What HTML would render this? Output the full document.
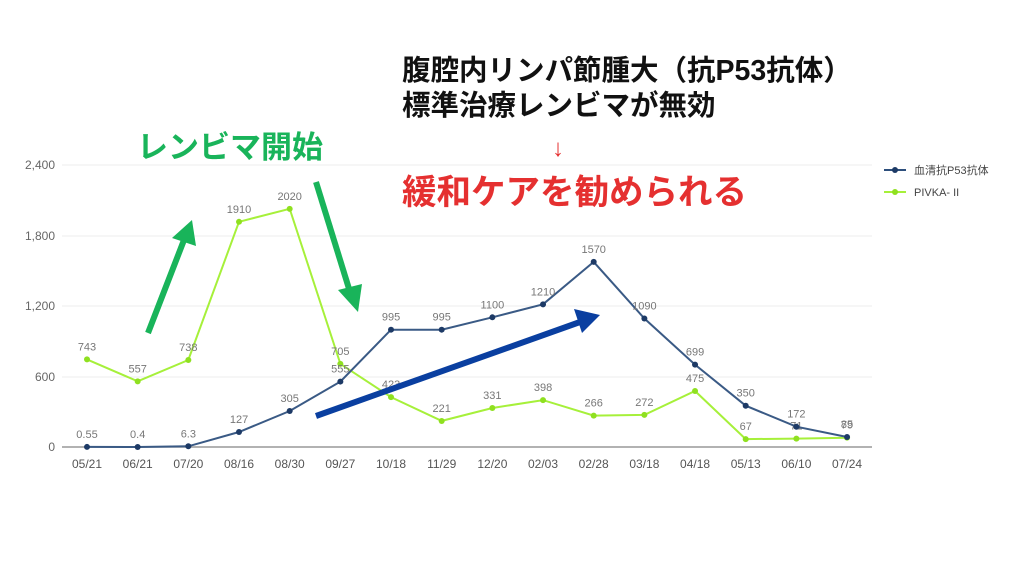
<!DOCTYPE html>
<html><head><meta charset="utf-8"><style>
body{margin:0;background:#fff;width:1024px;height:576px;overflow:hidden}
svg text{font-family:"Liberation Sans","Noto Sans CJK JP",sans-serif}
</style></head><body>
<svg width="1024" height="576" xmlns="http://www.w3.org/2000/svg">
<g stroke="#eee" stroke-width="1">
<line x1="62" y1="165" x2="872" y2="165"/><line x1="62" y1="236" x2="872" y2="236"/>
<line x1="62" y1="306" x2="872" y2="306"/><line x1="62" y1="377" x2="872" y2="377"/>
</g>
<line x1="62" y1="447" x2="872" y2="447" stroke="#999" stroke-width="1.5"/>
<g font-size="12" fill="#666" text-anchor="end">
<text x="55" y="169">2,400</text><text x="55" y="240">1,800</text><text x="55" y="310">1,200</text><text x="55" y="381">600</text><text x="55" y="451">0</text>
</g>
<g id="c"></g>
<g font-weight="bold">
<text x="137" y="158" font-size="31" style="fill:#19b45a">レンビマ開始</text>
<text x="402" y="80" fill="#111" font-size="28.5">腹腔内リンパ節腫大（抗P53抗体）</text>
<text x="402" y="115" fill="#111" font-size="28.5">標準治療レンビマが無効</text>
<text x="552" y="156" fill="#e53030" font-size="24" font-weight="normal">↓</text>
<text x="402" y="204" fill="#e53030" font-size="34.5">緩和ケアを勧められる</text>
</g>
<g stroke="#19b45a" stroke-width="6" fill="#19b45a">
<line x1="148" y1="333" x2="184" y2="240"/><polygon points="192,220 172,238 196,246" stroke="none"/>
<line x1="316" y1="182" x2="350" y2="292"/><polygon points="358,312 338,290 362,284" stroke="none"/>
</g>
<g stroke="#0a3fa0" stroke-width="6" fill="#0a3fa0">
<line x1="316" y1="416" x2="580" y2="322"/><polygon points="600,315 574,309 582,333" stroke="none"/>
</g>
<g font-size="11" fill="#444">
<line x1="884" y1="170" x2="906" y2="170" stroke="#2d4f7c" stroke-width="2"/><circle cx="895" cy="170" r="3" fill="#1d3a66"/>
<text x="914" y="174">血清抗P53抗体</text>
<line x1="884" y1="192" x2="906" y2="192" stroke="#a6f03a" stroke-width="2"/><circle cx="895" cy="192" r="3" fill="#8fe020"/>
<text x="914" y="196">PIVKA- II</text>
</g>
</svg>
<script>
var labels=["05/21","06/21","07/20","08/16","08/30","09/27","10/18","11/29","12/20","02/03","02/28","03/18","04/18","05/13","06/10","07/24"];
var b=[0.55,0.4,6.3,127,305,555,995,995,1100,1210,1570,1090,699,350,172,85];
var g=[743,557,738,1910,2020,705,423,221,331,398,266,272,475,67,71,79];
var X=i=>87+50.67*i, Y=v=>447-v*0.1179;
var s='';
function ser(d,col,mk){var p=d.map((v,i)=>X(i).toFixed(1)+','+Y(v).toFixed(1)).join(' ');
s+='<polyline points="'+p+'" fill="none" stroke="'+col+'" stroke-width="2"/>';
d.forEach((v,i)=>{s+='<circle cx="'+X(i)+'" cy="'+Y(v)+'" r="3" fill="'+mk+'"/>';
s+='<text x="'+X(i)+'" y="'+(Y(v)-9)+'" font-size="11" fill="#777" text-anchor="middle">'+v+'</text>';});}
ser(g,'#a6f03a','#8fe020');ser(b,'#3a5a85','#1d3a66');
labels.forEach((l,i)=>{s+='<text x="'+X(i)+'" y="468" font-size="12" fill="#555" text-anchor="middle">'+l+'</text>';});
document.getElementById('c').innerHTML=s;
</script>
</body></html>
